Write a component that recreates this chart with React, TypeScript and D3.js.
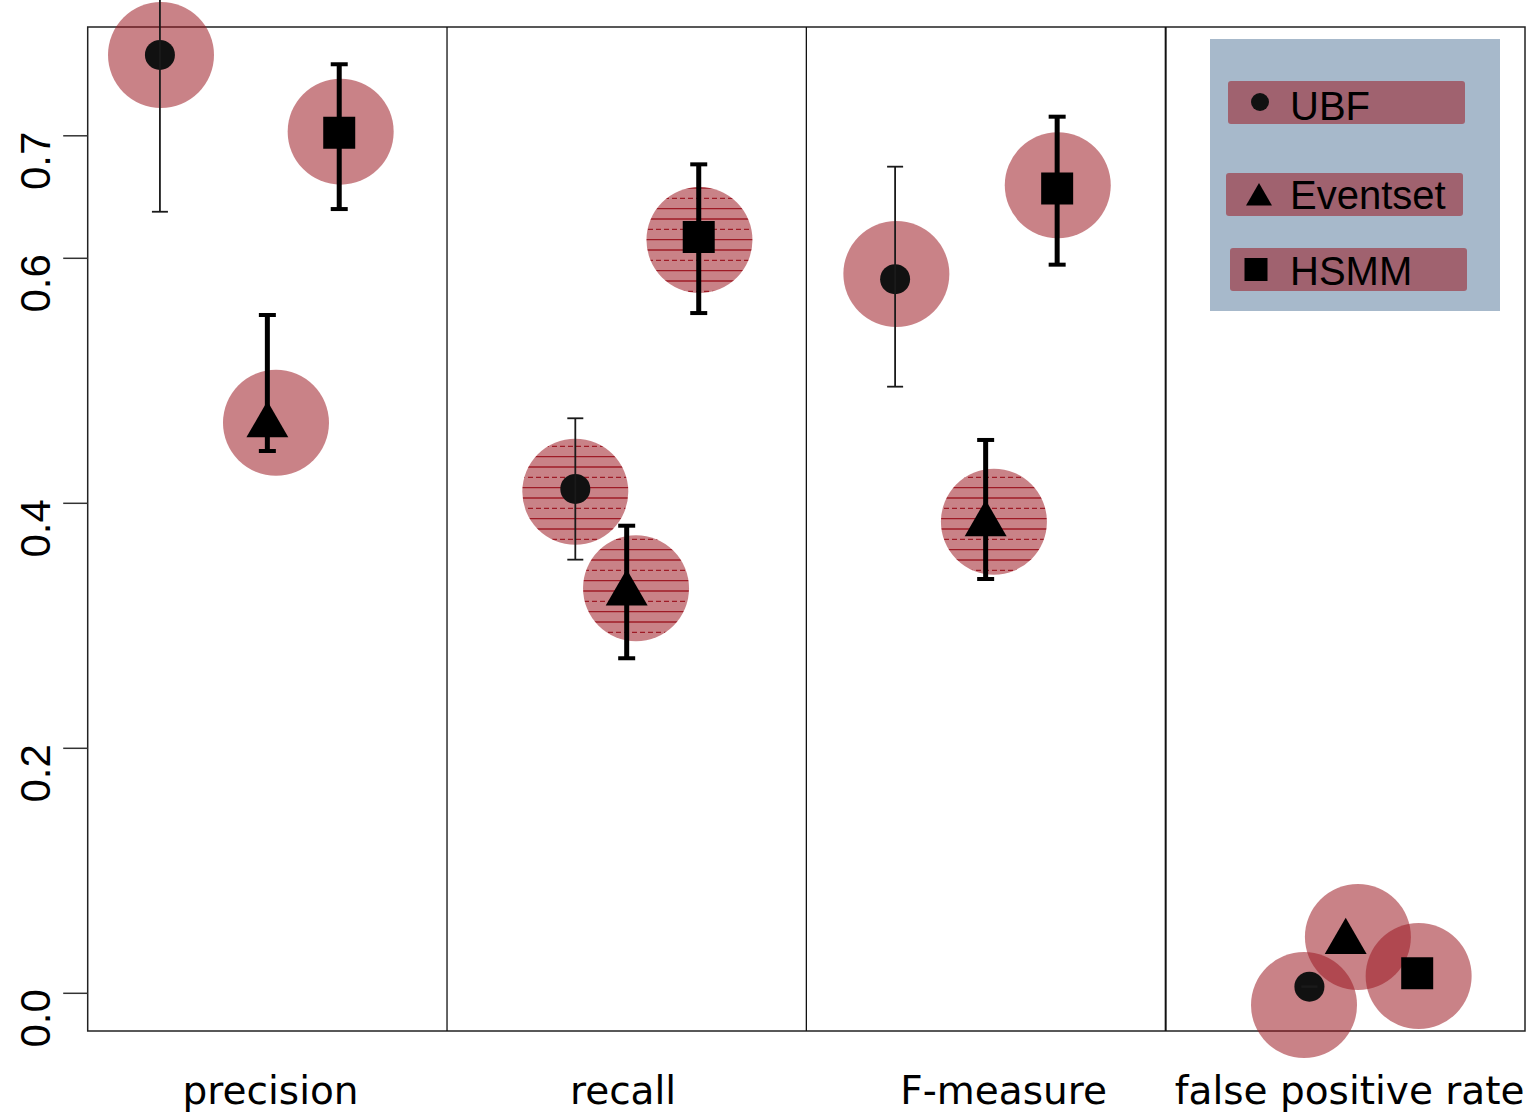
import React from "react";
import * as d3 from "d3";

// Metrics shown as panels along the x axis
const metrics = ["precision", "recall", "F-measure", "false positive rate"];
const methods = ["UBF", "Eventset", "HSMM"];

// Horizontal placement of each method inside its metric panel (panel units)
const ubfX = [0.201, 1.357, 2.247, 3.4];
const eventX = [0.5, 1.5, 2.499, 3.501];
const hsmmX = [0.7, 1.7005, 2.698, 3.7];

// Mean values and error ranges
const ubfMean = [0.766, 0.4117, 0.583, 0.0054];
const ubfLow = [0.638, 0.354, 0.4952, 0.0051];
const ubfHigh = [0.894, 0.4694, 0.6748, 0.0057];

const eventMean = [0.4637, 0.3265, 0.383, 0.0419];
const eventLow = [0.4427, 0.2735, 0.3382, 0.0419];
const eventHigh = [0.5537, 0.3817, 0.4517, 0.0419];

const hsmmMean = [0.7024, 0.6174, 0.657, 0.0163];
const hsmmLow = [0.6402, 0.5553, 0.5948, 0.0163];
const hsmmHigh = [0.7584, 0.6767, 0.7156, 0.0163];

// Jittered halo centres behind each point
const ubfHaloX = [0.204, 1.357, 2.2505, 3.385];
const ubfHaloY = [0.766, 0.4095, 0.5872, -0.0096];
const eventHaloX = [0.524, 1.526, 2.522, 3.535];
const eventHaloY = [0.4658, 0.3306, 0.385, 0.046];
const hsmmHaloX = [0.704, 1.7025, 2.6997, 3.704];
const hsmmHaloY = [0.7034, 0.615, 0.6596, 0.0141];

// Which halos carry the striped fill
const ubfStriped = [false, true, false, false];
const eventStriped = [false, true, true, false];
const hsmmStriped = [false, true, false, false];

const yTicks = [0, 0.2, 0.4, 0.6, 0.7];
const labelAt = [0.509, 1.49, 2.549, 3.512];

const W = 1535;
const H = 1115;
const left = 87.7;
const right = 1525;
const top = 27;
const bottom = 1031;

const x = d3.scaleLinear().domain([0, 4]).range([left, right]);
const y = d3.scaleLinear().domain([0, 0.7]).range([993.3, 135.8]);

const haloFill = "rgba(155,24,33,0.54)";

type Row = {
  method: number;
  metric: number;
  px: number;
  mean: number;
  low: number;
  high: number;
  hx: number;
  hy: number;
  striped: boolean;
};

const series = [
  { xs: ubfX, mean: ubfMean, low: ubfLow, high: ubfHigh, hx: ubfHaloX, hy: ubfHaloY, st: ubfStriped },
  { xs: eventX, mean: eventMean, low: eventLow, high: eventHigh, hx: eventHaloX, hy: eventHaloY, st: eventStriped },
  { xs: hsmmX, mean: hsmmMean, low: hsmmLow, high: hsmmHigh, hx: hsmmHaloX, hy: hsmmHaloY, st: hsmmStriped },
];

const rows: Row[] = [];
series.forEach((s, m) => {
  metrics.forEach((_, k) => {
    rows.push({
      method: m,
      metric: k,
      px: s.xs[k],
      mean: s.mean[k],
      low: s.low[k],
      high: s.high[k],
      hx: s.hx[k],
      hy: s.hy[k],
      striped: s.st[k],
    });
  });
});

const triPath = d3.symbol(d3.symbolTriangle, 761)()!;
const sqPath = d3.symbol(d3.symbolSquare, 32 * 32)()!;
const triSmall = d3.symbol(d3.symbolTriangle, 292)()!;
const sqSmall = d3.symbol(d3.symbolSquare, 23 * 23)()!;

function Marker({ method, cx, cy, small }: { method: number; cx: number; cy: number; small?: boolean }) {
  if (method === 0) return <circle cx={cx} cy={cy} r={small ? 9 : 15} fill="#111" />;
  if (method === 1)
    return <path d={small ? triSmall : triPath} transform={`translate(${cx},${cy})`} fill="#000" />;
  return <path d={small ? sqSmall : sqPath} transform={`translate(${cx},${cy})`} fill="#000" />;
}

function ErrorBar({ r }: { r: Row }) {
  const thin = r.method === 0;
  const sw = thin ? 1.8 : 5;
  const capW = thin ? 8 : 8.5;
  const capSw = thin ? 1.8 : 4;
  const cx = x(r.px);
  const y1 = y(r.high);
  const y2 = y(r.low);
  const col = thin ? "#1a1a1a" : "#000";
  return (
    <g>
      <line x1={cx} x2={cx} y1={y1} y2={y2} stroke={col} strokeWidth={sw} />
      <line x1={cx - capW} x2={cx + capW} y1={y1} y2={y1} stroke={col} strokeWidth={capSw} />
      <line x1={cx - capW} x2={cx + capW} y1={y2} y2={y2} stroke={col} strokeWidth={capSw} />
    </g>
  );
}

const legendRows = [
  { method: 0, sx: 1260, sy: 102, rx: 1228, ry: 81, tx: 1290, ty: 120 },
  { method: 1, sx: 1259, sy: 198, rx: 1226, ry: 173, tx: 1290, ty: 209 },
  { method: 2, sx: 1256, sy: 269.5, rx: 1230, ry: 248, tx: 1290, ty: 285 },
];

export default function App() {
  return (
    <svg width={W} height={H} style={{ display: "block", position: "absolute", left: 0, top: 0 }}>
      <defs>
        <pattern id="stripes" patternUnits="userSpaceOnUse" width={40} height={31}>
          <rect width={40} height={31} fill={haloFill} />
          <line x1={0} x2={40} y1={2} y2={2} stroke="#9e1b26" strokeWidth={1.3} />
          <line x1={0} x2={40} y1={12.3} y2={12.3} stroke="#9e1b26" strokeWidth={1.3} strokeDasharray="5 3" />
          <line x1={0} x2={40} y1={22.6} y2={22.6} stroke="#9e1b26" strokeWidth={1.3} />
        </pattern>
      </defs>
      <rect width={W} height={H} fill="#fff" />

      {/* plot frame and panel separators */}
      <rect x={left} y={top} width={right - left} height={bottom - top} fill="none" stroke="#222" strokeWidth={1.5} />
      {[1, 2, 3].map((d) => (
        <line key={d} x1={x(d)} x2={x(d)} y1={top} y2={bottom} stroke="#111" strokeWidth={d === 3 ? 2 : 1.3} />
      ))}

      {/* y axis: labels read upwards, starting just below their tick */}
      {yTicks.map((t) => (
        <g key={t}>
          <line x1={left - 24.5} x2={left} y1={y(t)} y2={y(t)} stroke="#333" strokeWidth={1.5} />
          <text
            transform={`translate(50,${y(t) + 25}) rotate(-90)`}
            textAnchor="middle"
            fontFamily="'Liberation Sans', Arial, sans-serif"
            fontSize={42}
            fill="#000"
          >
            {d3.format(".1f")(t)}
          </text>
        </g>
      ))}

      {/* metric labels */}
      {metrics.map((m, i) => (
        <text
          key={m}
          x={x(labelAt[i])}
          y={1104}
          textAnchor="middle"
          fontFamily="'DejaVu Sans', Verdana, sans-serif"
          fontSize={39}
          fill="#000"
        >
          {m}
        </text>
      ))}

      {/* halos */}
      {rows.map((r, i) => (
        <circle key={"h" + i} cx={x(r.hx)} cy={y(r.hy)} r={53} fill={r.striped ? "url(#stripes)" : haloFill} />
      ))}

      {/* points */}
      {rows.map((r, i) => (
        <Marker key={"p" + i} method={r.method} cx={x(r.px)} cy={y(r.mean)} />
      ))}

      {/* error bars */}
      {rows.map((r, i) => (
        <ErrorBar key={"e" + i} r={r} />
      ))}

      {/* legend */}
      <rect x={1210} y={39} width={290} height={272} fill="rgb(167,185,203)" />
      {legendRows.map((l) => (
        <g key={l.method}>
          <rect x={l.rx} y={l.ry} width={237} height={43} rx={3} fill={haloFill} />
          <Marker method={l.method} cx={l.sx} cy={l.sy} small />
          <text x={l.tx} y={l.ty} fontFamily="'Liberation Sans', Arial, sans-serif" fontSize={40} fill="#000">
            {methods[l.method]}
          </text>
        </g>
      ))}
    </svg>
  );
}
